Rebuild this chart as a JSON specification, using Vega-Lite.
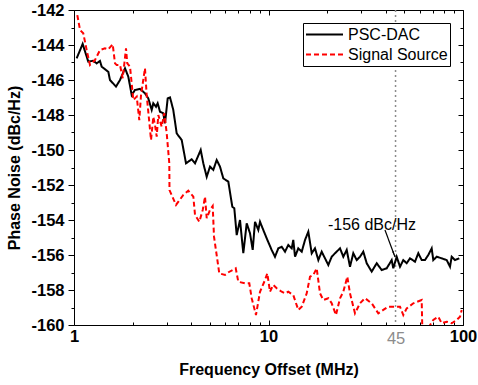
{
  "$schema": "https://vega.github.io/schema/vega-lite/v6.json",
  "width": 389,
  "height": 315,
  "autosize": {"type": "none"},
  "padding": {"left": 74, "top": 10, "right": 15, "bottom": 60},
  "background": "white",
  "config": {
    "view": {"stroke": null},
    "font": "Liberation Sans",
    "axis": {"grid": false, "domainColor": "#000000", "tickColor": "#000000", "labelColor": "#000000", "titleColor": "#000000", "domainWidth": 1, "tickWidth": 1}
  },
  "datasets": {
    "series": [
      {"s": "PSC-DAC", "f": 1.032, "v": -144.76},
      {"s": "PSC-DAC", "f": 1.108, "v": -143.94},
      {"s": "PSC-DAC", "f": 1.184, "v": -144.95},
      {"s": "PSC-DAC", "f": 1.257, "v": -144.90},
      {"s": "PSC-DAC", "f": 1.308, "v": -145.05},
      {"s": "PSC-DAC", "f": 1.360, "v": -144.91},
      {"s": "PSC-DAC", "f": 1.388, "v": -145.24},
      {"s": "PSC-DAC", "f": 1.501, "v": -145.53},
      {"s": "PSC-DAC", "f": 1.531, "v": -146.0},
      {"s": "PSC-DAC", "f": 1.644, "v": -146.38},
      {"s": "PSC-DAC", "f": 1.724, "v": -146.0},
      {"s": "PSC-DAC", "f": 1.829, "v": -145.33},
      {"s": "PSC-DAC", "f": 1.902, "v": -145.81},
      {"s": "PSC-DAC", "f": 1.980, "v": -146.86},
      {"s": "PSC-DAC", "f": 2.059, "v": -146.57},
      {"s": "PSC-DAC", "f": 2.184, "v": -146.51},
      {"s": "PSC-DAC", "f": 2.317, "v": -146.76},
      {"s": "PSC-DAC", "f": 2.410, "v": -147.05},
      {"s": "PSC-DAC", "f": 2.509, "v": -147.71},
      {"s": "PSC-DAC", "f": 2.557, "v": -147.33},
      {"s": "PSC-DAC", "f": 2.640, "v": -147.53},
      {"s": "PSC-DAC", "f": 2.693, "v": -147.33},
      {"s": "PSC-DAC", "f": 2.768, "v": -147.81},
      {"s": "PSC-DAC", "f": 2.878, "v": -147.90},
      {"s": "PSC-DAC", "f": 2.937, "v": -148.47},
      {"s": "PSC-DAC", "f": 3.032, "v": -147.05},
      {"s": "PSC-DAC", "f": 3.116, "v": -146.99},
      {"s": "PSC-DAC", "f": 3.239, "v": -147.71},
      {"s": "PSC-DAC", "f": 3.373, "v": -149.05},
      {"s": "PSC-DAC", "f": 3.579, "v": -149.43},
      {"s": "PSC-DAC", "f": 3.766, "v": -150.76},
      {"s": "PSC-DAC", "f": 4.029, "v": -150.53},
      {"s": "PSC-DAC", "f": 4.190, "v": -150.76},
      {"s": "PSC-DAC", "f": 4.481, "v": -150.0},
      {"s": "PSC-DAC", "f": 4.622, "v": -150.76},
      {"s": "PSC-DAC", "f": 4.812, "v": -151.53},
      {"s": "PSC-DAC", "f": 5.003, "v": -150.95},
      {"s": "PSC-DAC", "f": 5.202, "v": -151.14},
      {"s": "PSC-DAC", "f": 5.416, "v": -150.57},
      {"s": "PSC-DAC", "f": 5.631, "v": -150.95},
      {"s": "PSC-DAC", "f": 5.856, "v": -151.62},
      {"s": "PSC-DAC", "f": 6.214, "v": -151.81},
      {"s": "PSC-DAC", "f": 6.515, "v": -153.24},
      {"s": "PSC-DAC", "f": 6.671, "v": -153.33},
      {"s": "PSC-DAC", "f": 6.863, "v": -154.86},
      {"s": "PSC-DAC", "f": 7.137, "v": -154.0},
      {"s": "PSC-DAC", "f": 7.421, "v": -155.90},
      {"s": "PSC-DAC", "f": 7.726, "v": -154.19},
      {"s": "PSC-DAC", "f": 8.034, "v": -154.76},
      {"s": "PSC-DAC", "f": 8.295, "v": -155.71},
      {"s": "PSC-DAC", "f": 8.524, "v": -154.10},
      {"s": "PSC-DAC", "f": 8.864, "v": -154.57},
      {"s": "PSC-DAC", "f": 9.044, "v": -154.10},
      {"s": "PSC-DAC", "f": 9.403, "v": -154.57},
      {"s": "PSC-DAC", "f": 9.789, "v": -155.05},
      {"s": "PSC-DAC", "f": 10.38, "v": -155.71},
      {"s": "PSC-DAC", "f": 10.80, "v": -156.10},
      {"s": "PSC-DAC", "f": 11.23, "v": -155.62},
      {"s": "PSC-DAC", "f": 11.69, "v": -155.53},
      {"s": "PSC-DAC", "f": 12.16, "v": -155.81},
      {"s": "PSC-DAC", "f": 12.64, "v": -155.43},
      {"s": "PSC-DAC", "f": 13.16, "v": -155.62},
      {"s": "PSC-DAC", "f": 13.41, "v": -155.14},
      {"s": "PSC-DAC", "f": 13.69, "v": -156.10},
      {"s": "PSC-DAC", "f": 14.23, "v": -155.62},
      {"s": "PSC-DAC", "f": 14.82, "v": -155.81},
      {"s": "PSC-DAC", "f": 15.41, "v": -155.14},
      {"s": "PSC-DAC", "f": 16.02, "v": -154.67},
      {"s": "PSC-DAC", "f": 16.68, "v": -155.90},
      {"s": "PSC-DAC", "f": 17.34, "v": -155.62},
      {"s": "PSC-DAC", "f": 18.04, "v": -156.29},
      {"s": "PSC-DAC", "f": 18.77, "v": -155.81},
      {"s": "PSC-DAC", "f": 19.52, "v": -156.19},
      {"s": "PSC-DAC", "f": 20.30, "v": -156.57},
      {"s": "PSC-DAC", "f": 21.13, "v": -156.10},
      {"s": "PSC-DAC", "f": 21.98, "v": -155.90},
      {"s": "PSC-DAC", "f": 23.32, "v": -155.62},
      {"s": "PSC-DAC", "f": 24.25, "v": -156.10},
      {"s": "PSC-DAC", "f": 25.24, "v": -155.71},
      {"s": "PSC-DAC", "f": 26.24, "v": -156.67},
      {"s": "PSC-DAC", "f": 27.29, "v": -155.90},
      {"s": "PSC-DAC", "f": 28.41, "v": -156.29},
      {"s": "PSC-DAC", "f": 29.54, "v": -156.10},
      {"s": "PSC-DAC", "f": 30.72, "v": -155.81},
      {"s": "PSC-DAC", "f": 31.98, "v": -156.47},
      {"s": "PSC-DAC", "f": 33.93, "v": -156.95},
      {"s": "PSC-DAC", "f": 36.00, "v": -156.47},
      {"s": "PSC-DAC", "f": 38.19, "v": -156.86},
      {"s": "PSC-DAC", "f": 40.52, "v": -156.76},
      {"s": "PSC-DAC", "f": 42.99, "v": -156.29},
      {"s": "PSC-DAC", "f": 43.81, "v": -156.76},
      {"s": "PSC-DAC", "f": 45.61, "v": -156.10},
      {"s": "PSC-DAC", "f": 47.44, "v": -156.67},
      {"s": "PSC-DAC", "f": 49.33, "v": -156.29},
      {"s": "PSC-DAC", "f": 51.34, "v": -156.47},
      {"s": "PSC-DAC", "f": 53.39, "v": -156.19},
      {"s": "PSC-DAC", "f": 56.65, "v": -156.38},
      {"s": "PSC-DAC", "f": 58.90, "v": -155.90},
      {"s": "PSC-DAC", "f": 61.32, "v": -156.29},
      {"s": "PSC-DAC", "f": 63.76, "v": -156.29},
      {"s": "PSC-DAC", "f": 66.30, "v": -156.0},
      {"s": "PSC-DAC", "f": 69.03, "v": -155.62},
      {"s": "PSC-DAC", "f": 70.35, "v": -156.29},
      {"s": "PSC-DAC", "f": 73.24, "v": -156.10},
      {"s": "PSC-DAC", "f": 77.70, "v": -156.19},
      {"s": "PSC-DAC", "f": 82.44, "v": -156.29},
      {"s": "PSC-DAC", "f": 85.74, "v": -156.67},
      {"s": "PSC-DAC", "f": 87.48, "v": -156.10},
      {"s": "PSC-DAC", "f": 90.96, "v": -156.29},
      {"s": "PSC-DAC", "f": 95.72, "v": -156.19},
      {"s": "Signal Source", "f": 1.040, "v": -142.29},
      {"s": "Signal Source", "f": 1.074, "v": -143.14},
      {"s": "Signal Source", "f": 1.116, "v": -143.33},
      {"s": "Signal Source", "f": 1.162, "v": -144.29},
      {"s": "Signal Source", "f": 1.208, "v": -145.14},
      {"s": "Signal Source", "f": 1.282, "v": -144.86},
      {"s": "Signal Source", "f": 1.360, "v": -144.29},
      {"s": "Signal Source", "f": 1.443, "v": -144.19},
      {"s": "Signal Source", "f": 1.501, "v": -144.25},
      {"s": "Signal Source", "f": 1.581, "v": -143.96},
      {"s": "Signal Source", "f": 1.625, "v": -145.05},
      {"s": "Signal Source", "f": 1.658, "v": -145.14},
      {"s": "Signal Source", "f": 1.724, "v": -145.14},
      {"s": "Signal Source", "f": 1.780, "v": -145.90},
      {"s": "Signal Source", "f": 1.851, "v": -144.19},
      {"s": "Signal Source", "f": 1.879, "v": -145.05},
      {"s": "Signal Source", "f": 1.941, "v": -145.24},
      {"s": "Signal Source", "f": 2.018, "v": -147.14},
      {"s": "Signal Source", "f": 2.101, "v": -146.95},
      {"s": "Signal Source", "f": 2.166, "v": -148.29},
      {"s": "Signal Source", "f": 2.211, "v": -146.86},
      {"s": "Signal Source", "f": 2.317, "v": -145.33},
      {"s": "Signal Source", "f": 2.364, "v": -146.86},
      {"s": "Signal Source", "f": 2.489, "v": -149.43},
      {"s": "Signal Source", "f": 2.557, "v": -148.10},
      {"s": "Signal Source", "f": 2.609, "v": -148.57},
      {"s": "Signal Source", "f": 2.662, "v": -149.24},
      {"s": "Signal Source", "f": 2.713, "v": -148.0},
      {"s": "Signal Source", "f": 2.824, "v": -148.67},
      {"s": "Signal Source", "f": 2.913, "v": -147.90},
      {"s": "Signal Source", "f": 2.997, "v": -149.05},
      {"s": "Signal Source", "f": 3.090, "v": -150.76},
      {"s": "Signal Source", "f": 3.097, "v": -152.29},
      {"s": "Signal Source", "f": 3.345, "v": -153.14},
      {"s": "Signal Source", "f": 3.648, "v": -152.57},
      {"s": "Signal Source", "f": 3.869, "v": -152.33},
      {"s": "Signal Source", "f": 4.107, "v": -152.67},
      {"s": "Signal Source", "f": 4.190, "v": -153.71},
      {"s": "Signal Source", "f": 4.409, "v": -154.10},
      {"s": "Signal Source", "f": 4.590, "v": -153.43},
      {"s": "Signal Source", "f": 4.716, "v": -152.67},
      {"s": "Signal Source", "f": 4.812, "v": -153.90},
      {"s": "Signal Source", "f": 5.003, "v": -153.43},
      {"s": "Signal Source", "f": 5.166, "v": -153.20},
      {"s": "Signal Source", "f": 5.246, "v": -154.95},
      {"s": "Signal Source", "f": 5.585, "v": -157.05},
      {"s": "Signal Source", "f": 5.974, "v": -157.14},
      {"s": "Signal Source", "f": 6.264, "v": -156.97},
      {"s": "Signal Source", "f": 6.783, "v": -156.76},
      {"s": "Signal Source", "f": 6.995, "v": -157.53},
      {"s": "Signal Source", "f": 7.572, "v": -157.62},
      {"s": "Signal Source", "f": 7.967, "v": -157.62},
      {"s": "Signal Source", "f": 8.196, "v": -158.47},
      {"s": "Signal Source", "f": 8.622, "v": -159.43},
      {"s": "Signal Source", "f": 9.044, "v": -158.10},
      {"s": "Signal Source", "f": 9.594, "v": -157.43},
      {"s": "Signal Source", "f": 9.858, "v": -157.05},
      {"s": "Signal Source", "f": 10.18, "v": -158.10},
      {"s": "Signal Source", "f": 10.58, "v": -157.71},
      {"s": "Signal Source", "f": 11.02, "v": -157.90},
      {"s": "Signal Source", "f": 11.69, "v": -158.10},
      {"s": "Signal Source", "f": 12.16, "v": -158.19},
      {"s": "Signal Source", "f": 12.64, "v": -158.10},
      {"s": "Signal Source", "f": 13.41, "v": -158.29},
      {"s": "Signal Source", "f": 14.23, "v": -159.14},
      {"s": "Signal Source", "f": 14.82, "v": -158.95},
      {"s": "Signal Source", "f": 15.72, "v": -158.19},
      {"s": "Signal Source", "f": 16.35, "v": -157.24},
      {"s": "Signal Source", "f": 17.00, "v": -157.14},
      {"s": "Signal Source", "f": 17.69, "v": -156.76},
      {"s": "Signal Source", "f": 18.40, "v": -158.19},
      {"s": "Signal Source", "f": 19.13, "v": -158.57},
      {"s": "Signal Source", "f": 20.30, "v": -158.47},
      {"s": "Signal Source", "f": 21.13, "v": -158.76},
      {"s": "Signal Source", "f": 22.23, "v": -159.43},
      {"s": "Signal Source", "f": 23.32, "v": -158.47},
      {"s": "Signal Source", "f": 24.25, "v": -158.10},
      {"s": "Signal Source", "f": 25.42, "v": -157.24},
      {"s": "Signal Source", "f": 26.24, "v": -158.19},
      {"s": "Signal Source", "f": 27.84, "v": -159.33},
      {"s": "Signal Source", "f": 29.54, "v": -158.76},
      {"s": "Signal Source", "f": 31.34, "v": -158.47},
      {"s": "Signal Source", "f": 33.93, "v": -158.76},
      {"s": "Signal Source", "f": 36.69, "v": -159.33},
      {"s": "Signal Source", "f": 38.92, "v": -159.14},
      {"s": "Signal Source", "f": 41.29, "v": -158.95},
      {"s": "Signal Source", "f": 43.81, "v": -158.95},
      {"s": "Signal Source", "f": 47.44, "v": -158.95},
      {"s": "Signal Source", "f": 49.33, "v": -159.43},
      {"s": "Signal Source", "f": 51.34, "v": -159.05},
      {"s": "Signal Source", "f": 55.53, "v": -158.76},
      {"s": "Signal Source", "f": 61.32, "v": -158.57},
      {"s": "Signal Source", "f": 61.74, "v": -160.10},
      {"s": "Signal Source", "f": 65.30, "v": -160.29},
      {"s": "Signal Source", "f": 70.35, "v": -159.71},
      {"s": "Signal Source", "f": 74.64, "v": -159.53},
      {"s": "Signal Source", "f": 77.70, "v": -159.90},
      {"s": "Signal Source", "f": 82.44, "v": -159.81},
      {"s": "Signal Source", "f": 87.48, "v": -159.90},
      {"s": "Signal Source", "f": 92.81, "v": -159.71},
      {"s": "Signal Source", "f": 96.52, "v": -159.53},
      {"s": "Signal Source", "f": 98.47, "v": -159.14}
    ],
    "marker": [{"f": 45}],
    "note": [{"f": 20.22, "v": -154.29, "label": "-156 dBc/Hz"}],
    "arrow": [{"f": 39.7, "v": -154.57}, {"f": 44.72, "v": -156.11}],
    "head": [{"f": 43.93, "v": -155.89}]
  },
  "layer": [
    {
      "data": {"name": "marker"},
      "mark": {"type": "rule", "color": "#8c8c8c", "strokeWidth": 1.5, "strokeDash": [2, 3]},
      "encoding": {
        "x": {"field": "f", "type": "quantitative", "scale": {"type": "log", "domain": [1, 100], "nice": false},
          "axis": {"orient": "top", "values": [1,2,3,4,5,6,7,8,9,10,20,30,40,50,60,70,80,90,100], "labels": false, "title": null,
            "tickSize": {"condition": {"test": "indexof([1,10,100], datum.value) >= 0", "value": -5}, "value": -3}}}
      }
    },
    {
      "data": {"name": "series"},
      "mark": {"type": "line", "strokeWidth": 2, "clip": true},
      "encoding": {
        "x": {"field": "f", "type": "quantitative", "scale": {"type": "log", "domain": [1, 100], "nice": false},
          "axis": {"orient": "bottom", "values": [1,2,3,4,5,6,7,8,9,10,20,30,40,45,50,60,70,80,90,100],
            "title": "Frequency Offset (MHz)", "titleFontSize": 16, "titleFontWeight": "bold", "titlePadding": 15,
            "labelExpr": "datum.value == 45 ? '45' : (indexof([1,10,100], datum.value) >= 0 ? '' + datum.value : '')",
            "labelFontSize": 16.5,
            "labelFontWeight": {"condition": {"test": "datum.value == 45", "value": "normal"}, "value": "bold"},
            "labelColor": {"condition": {"test": "datum.value == 45", "value": "#8c8c8c"}, "value": "#000000"},
            "tickSize": {"condition": {"test": "indexof([1,10,100], datum.value) >= 0", "value": -5}, "value": -3},
            "tickOpacity": {"condition": {"test": "datum.value == 45", "value": 0}, "value": 1},
            "labelPadding": 8, "labelFlush": false, "labelOverlap": false}},
        "y": {"field": "v", "type": "quantitative", "scale": {"domain": [-160, -142], "nice": false, "zero": false},
          "axis": {"orient": "left", "values": [-160,-159,-158,-157,-156,-155,-154,-153,-152,-151,-150,-149,-148,-147,-146,-145,-144,-143,-142],
            "title": "Phase Noise (dBc/Hz)", "titleFontSize": 16, "titleFontWeight": "bold", "titlePadding": 8,
            "labelExpr": "datum.value % 2 == 0 ? '-' + abs(datum.value) : ''",
            "labelFontSize": 16.5, "labelFontWeight": "bold",
            "tickSize": {"condition": {"test": "datum.value % 2 == 0", "value": 6}, "value": 3},
            "labelPadding": 4, "labelFlush": false, "labelOverlap": false}},
        "color": {"field": "s", "type": "nominal", "scale": {"domain": ["PSC-DAC", "Signal Source"], "range": ["#000000", "#ff0000"]},
          "legend": {"title": null, "orient": "top-right", "offset": 13, "strokeColor": "#000000", "fillColor": "#ffffff", "padding": 2,
            "symbolType": "stroke", "symbolSize": 1369, "symbolStrokeWidth": 2, "clipHeight": 19, "rowPadding": 1,
            "labelFontSize": 16, "labelFont": "Liberation Sans", "labelColor": "#000000", "labelOffset": 4}},
        "strokeDash": {"field": "s", "type": "nominal", "scale": {"domain": ["PSC-DAC", "Signal Source"], "range": [[1, 0], [5, 3]]},
          "legend": {"title": null, "orient": "top-right", "offset": 13, "strokeColor": "#000000", "fillColor": "#ffffff", "padding": 2,
            "symbolType": "stroke", "symbolSize": 1369, "symbolStrokeWidth": 2, "clipHeight": 19, "rowPadding": 1,
            "labelFontSize": 16, "labelFont": "Liberation Sans", "labelColor": "#000000", "labelOffset": 4}}
      }
    },
    {
      "data": {"name": "note"},
      "mark": {"type": "text", "align": "left", "baseline": "middle", "fontSize": 16, "font": "Liberation Sans", "color": "#000000"},
      "encoding": {
        "x": {"field": "f", "type": "quantitative", "scale": {"type": "log", "domain": [1, 100], "nice": false}, "axis": null},
        "y": {"field": "v", "type": "quantitative", "scale": {"domain": [-160, -142], "nice": false, "zero": false},
          "axis": {"orient": "right", "values": [-160,-159,-158,-157,-156,-155,-154,-153,-152,-151,-150,-149,-148,-147,-146,-145,-144,-143,-142],
            "labels": false, "title": null,
            "tickSize": {"condition": {"test": "datum.value % 2 == 0", "value": -5}, "value": -3}}},
        "text": {"field": "label"}
      }
    },
    {
      "data": {"name": "arrow"},
      "mark": {"type": "line", "color": "#000000", "strokeWidth": 1.2},
      "encoding": {
        "x": {"field": "f", "type": "quantitative", "scale": {"type": "log", "domain": [1, 100], "nice": false}, "axis": null},
        "y": {"field": "v", "type": "quantitative", "scale": {"domain": [-160, -142], "nice": false, "zero": false}, "axis": null}
      }
    },
    {
      "data": {"name": "head"},
      "mark": {"type": "point", "shape": "wedge", "filled": true, "color": "#000000", "size": 40, "angle": 160, "opacity": 1},
      "encoding": {
        "x": {"field": "f", "type": "quantitative", "scale": {"type": "log", "domain": [1, 100], "nice": false}, "axis": null},
        "y": {"field": "v", "type": "quantitative", "scale": {"domain": [-160, -142], "nice": false, "zero": false}, "axis": null}
      }
    }
  ],
  "resolve": {"axis": {"x": "independent", "y": "independent"}}
}
